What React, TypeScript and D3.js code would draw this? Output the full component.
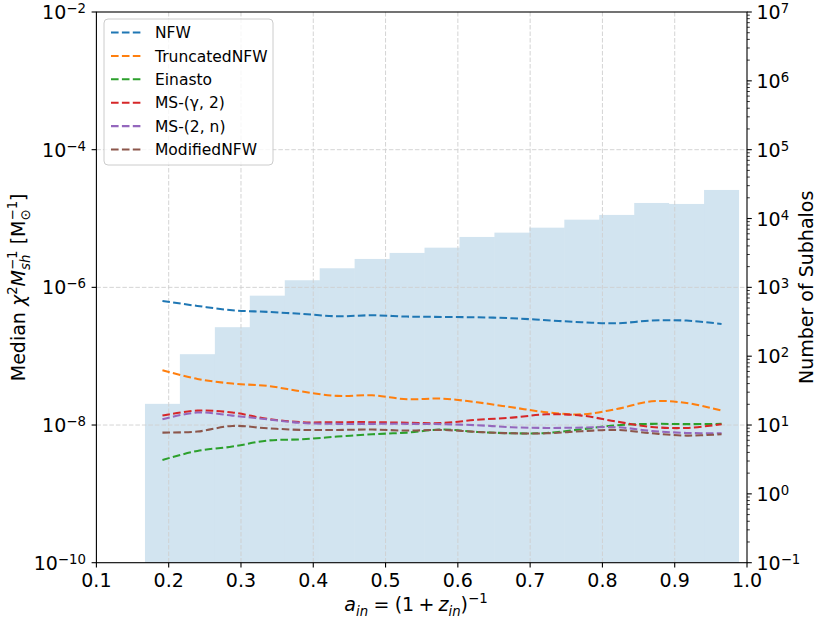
import * as d3 from 'd3';
import React from 'react';

// histogram bin edges (scale factor a_in) and subhalo counts per bin
const binEdges = [
	0.1672, 0.2155, 0.2639, 0.3122, 0.3606, 0.4089, 0.4572, 0.5056, 0.5539,
	0.6023, 0.6506, 0.6989, 0.7473, 0.7956, 0.844, 0.8923, 0.9406, 0.989,
];
const counts = [
	20.3, 107, 264, 757, 1268, 1893, 2585, 3162, 3773, 5395, 6233, 7366, 9620, 11270, 16820,
	16270, 25990,
];

// median chi^2 / M_sh per bin, one array per profile
const nfw = [
	6.35e-7, 5.37e-7, 4.65e-7, 4.4e-7, 4.11e-7, 3.8e-7, 3.93e-7, 3.76e-7, 3.72e-7, 3.67e-7,
	3.56e-7, 3.33e-7, 3.11e-7, 3.01e-7, 3.29e-7, 3.29e-7, 2.94e-7,
];
const truncatedNfw = [
	6.25e-8, 4.68e-8, 4.0e-8, 3.7e-8, 3.06e-8, 2.65e-8, 2.7e-8, 2.37e-8, 2.42e-8, 2.14e-8,
	1.81e-8, 1.53e-8, 1.43e-8, 1.71e-8, 2.21e-8, 2.09e-8, 1.62e-8,
];
const einasto = [
	3.11e-9, 4.21e-9, 4.86e-9, 5.94e-9, 6.21e-9, 6.79e-9, 7.34e-9, 7.76e-9, 8.59e-9, 7.94e-9,
	7.59e-9, 7.67e-9, 8.69e-9, 9.93e-9, 1.04e-8, 1.03e-8, 1.04e-8,
];
const msGamma2 = [
	1.37e-8, 1.62e-8, 1.52e-8, 1.23e-8, 1.1e-8, 1.1e-8, 1.1e-8, 1.08e-8, 1.07e-8, 1.19e-8,
	1.28e-8, 1.43e-8, 1.37e-8, 1.12e-8, 9.38e-9, 9.08e-9, 1.03e-8,
];
const ms2n = [
	1.21e-8, 1.52e-8, 1.37e-8, 1.21e-8, 1.07e-8, 1.04e-8, 1.04e-8, 1.04e-8, 1.03e-8, 9.93e-9,
	9.29e-9, 9.08e-9, 9.18e-9, 9.29e-9, 8.2e-9, 7.67e-9, 7.59e-9,
];
const modifiedNfw = [
	7.76e-9, 8.04e-9, 9.7e-9, 8.97e-9, 8.49e-9, 8.49e-9, 8.59e-9, 8.3e-9, 8.49e-9, 7.94e-9,
	7.59e-9, 7.59e-9, 8.13e-9, 8.49e-9, 7.59e-9, 7.02e-9, 7.34e-9,
];

const seriesNames = ['NFW', 'TruncatedNFW', 'Einasto', 'MS-(γ, 2)', 'MS-(2, n)', 'ModifiedNFW'];
const seriesValues = [nfw, truncatedNfw, einasto, msGamma2, ms2n, modifiedNfw];
const seriesColors = ['#1f77b4', '#ff7f0e', '#2ca02c', '#d62728', '#9467bd', '#8c564b'];

const xTicks = [0.1, 0.2, 0.3, 0.4, 0.5, 0.6, 0.7, 0.8, 0.9, 1.0];
const leftExps = [-2, -4, -6, -8, -10];
const rightExps = [7, 6, 5, 4, 3, 2, 1, 0, -1];

const W = 830;
const H = 623;
const margin = { left: 96.4, right: 747, top: 12, bottom: 562.7 };
const FONT = 'DejaVu Sans, sans-serif';
const FS = 19; // ticks and axis labels
const SFS = 13.3; // sub/superscripts
const LEG_FS = 15.5;

const App = () => {
	const x = d3.scaleLinear().domain([0.1, 1.0]).range([margin.left, margin.right]);
	const yL = d3.scaleLog().domain([1e-10, 1e-2]).range([margin.bottom, margin.top]);
	const yR = d3.scaleLog().domain([1e-1, 1e7]).range([margin.bottom, margin.top]);

	const centers = binEdges.slice(0, -1).map((e, i) => (e + binEdges[i + 1]) / 2);
	const line = d3
		.line<number>()
		.x((d, i) => x(centers[i]))
		.y(d => yL(d))
		.curve(d3.curveCatmullRom.alpha(0.5));

	const minorR: number[] = [];
	for (let e = -1; e < 7; e++) {
		for (let s = 2; s <= 9; s++) minorR.push(s * Math.pow(10, e));
	}

	const gridStyle = { stroke: '#cfcfcf', strokeWidth: 0.9, strokeDasharray: '4.5 2' };
	const midY = (margin.top + margin.bottom) / 2;

	return (
		<svg
			width={W}
			height={H}
			style={{ position: 'absolute', left: 0, top: 0, background: '#fff' }}
			fontFamily={FONT}
		>
			{/* histogram on twin axis */}
			<g>
				{counts.map((c, i) => (
					<rect
						key={i}
						x={x(binEdges[i])}
						y={yR(c)}
						width={x(binEdges[i + 1]) - x(binEdges[i])}
						height={margin.bottom - yR(c)}
						fill="#1f77b4"
						fillOpacity={0.2}
					/>
				))}
			</g>

			{/* grid */}
			<g>
				{xTicks.slice(1, -1).map(t => (
					<line key={t} x1={x(t)} x2={x(t)} y1={margin.top} y2={margin.bottom} {...gridStyle} />
				))}
				{leftExps.slice(1, -1).map(e => (
					<line
						key={e}
						x1={margin.left}
						x2={margin.right}
						y1={yL(Math.pow(10, e))}
						y2={yL(Math.pow(10, e))}
						{...gridStyle}
					/>
				))}
			</g>

			{/* lines */}
			<g fill="none">
				{seriesValues.map((vals, k) => (
					<path
						key={k}
						d={line(vals) || ''}
						stroke={seriesColors[k]}
						strokeWidth={2.05}
						strokeDasharray="7.6 3.3"
					/>
				))}
			</g>

			{/* frame */}
			<rect
				x={margin.left}
				y={margin.top}
				width={margin.right - margin.left}
				height={margin.bottom - margin.top}
				fill="none"
				stroke="#000"
				strokeWidth={1.1}
			/>

			{/* x axis */}
			<g fontSize={FS} textAnchor="middle">
				{xTicks.map(t => (
					<g key={t}>
						<line x1={x(t)} x2={x(t)} y1={margin.bottom} y2={margin.bottom + 4.8} stroke="#000" strokeWidth={1.1} />
						<text x={x(t)} y={margin.bottom + 24}>
							{t.toFixed(1)}
						</text>
					</g>
				))}
			</g>
			<text x={416} y={611} fontSize={FS} textAnchor="middle">
				<tspan fontStyle="italic">a</tspan>
				<tspan fontStyle="italic" fontSize={SFS} dy={4.5}>in</tspan>
				<tspan dy={-4.5} dx={5.3}>=</tspan>
				<tspan dx={5.3}>(1</tspan>
				<tspan dx={4.2}>+</tspan>
				<tspan dx={4.2} fontStyle="italic">z</tspan>
				<tspan fontStyle="italic" fontSize={SFS} dy={4.5}>in</tspan>
				<tspan dy={-4.5}>)</tspan>
				<tspan fontSize={SFS} dy={-8}>−1</tspan>
			</text>

			{/* left axis */}
			<g fontSize={FS} textAnchor="end">
				{leftExps.map(e => (
					<g key={e}>
						<line
							x1={margin.left - 4.8}
							x2={margin.left}
							y1={yL(Math.pow(10, e))}
							y2={yL(Math.pow(10, e))}
							stroke="#000"
							strokeWidth={1.1}
						/>
						<text x={margin.left - 10.5} y={yL(Math.pow(10, e)) + 7}>
							10<tspan fontSize={SFS} dy={-6}>{'−' + Math.abs(e)}</tspan>
						</text>
					</g>
				))}
			</g>
			<text transform={`translate(25,${midY}) rotate(-90)`} fontSize={FS} textAnchor="middle">
				<tspan>{'Median '}</tspan>
				<tspan fontStyle="italic">χ</tspan>
				<tspan fontSize={SFS} dy={-8}>2</tspan>
				<tspan fontStyle="italic" dy={8}>M</tspan>
				<tspan fontStyle="italic" fontSize={SFS} dy={4.5}>sh</tspan>
				<tspan fontSize={SFS} dx={-15.4} dy={-12.5}>−1</tspan>
				<tspan dy={8}>{' [M'}</tspan>
				<tspan fontSize={SFS} dy={4.5}>⊙</tspan>
				<tspan fontSize={SFS} dx={-11.1} dy={-12.5}>−1</tspan>
				<tspan dy={8}>]</tspan>
			</text>

			{/* right axis */}
			<g fontSize={FS} textAnchor="start">
				{minorR.map((v, i) => (
					<line key={i} x1={margin.right} x2={margin.right + 2.8} y1={yR(v)} y2={yR(v)} stroke="#000" strokeWidth={0.8} />
				))}
				{rightExps.map(e => (
					<g key={e}>
						<line
							x1={margin.right}
							x2={margin.right + 4.8}
							y1={yR(Math.pow(10, e))}
							y2={yR(Math.pow(10, e))}
							stroke="#000"
							strokeWidth={1.1}
						/>
						<text x={margin.right + 9.5} y={yR(Math.pow(10, e)) + 7}>
							10<tspan fontSize={SFS} dy={-6}>{e < 0 ? '−' + Math.abs(e) : String(e)}</tspan>
						</text>
					</g>
				))}
			</g>
			<text transform={`translate(813,${midY}) rotate(-90)`} fontSize={FS} textAnchor="middle">
				Number of Subhalos
			</text>

			{/* legend */}
			<g>
				<rect x={104} y={19} width={169} height={146} rx={4} fill="#fff" fillOpacity={0.8} stroke="#cccccc" strokeWidth={1} />
				{seriesNames.map((n, i) => {
					const ry = 32.5 + 23.4 * i;
					return (
						<g key={n}>
							<line x1={111} x2={142} y1={ry} y2={ry} stroke={seriesColors[i]} strokeWidth={2.05} strokeDasharray="7.6 3.3" />
							<text x={155} y={ry + 5.6} fontSize={LEG_FS}>
								{n}
							</text>
						</g>
					);
				})}
			</g>
		</svg>
	);
};

export default App;
